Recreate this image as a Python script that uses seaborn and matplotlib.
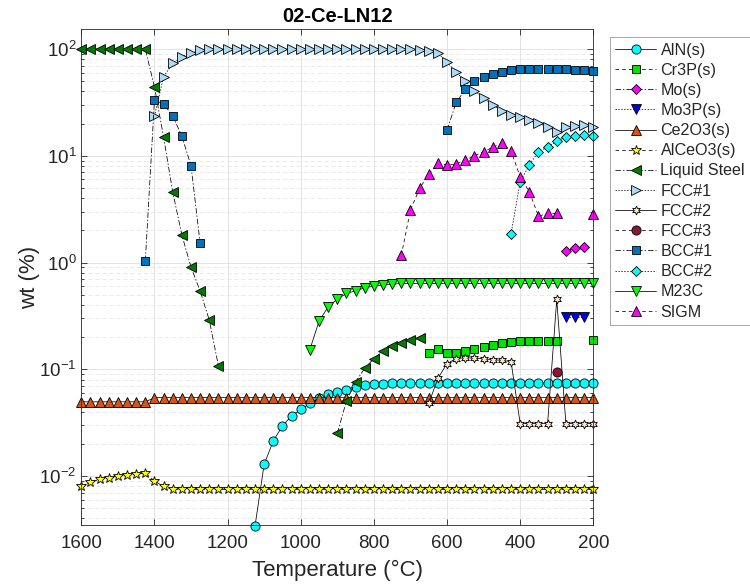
import numpy as np
import pandas as pd
import matplotlib
matplotlib.use("Agg")
import matplotlib.pyplot as plt
import seaborn as sns
from matplotlib.ticker import LogLocator, NullFormatter, FixedLocator

# ---------------- data ----------------
temperature = list(range(1600, 199, -25))   # 57 temperatures, 1600 .. 200 °C
N = None

aln = [N]*19 + [0.0034, 0.0129, 0.0213, 0.0295, 0.0366, 0.042, 0.0478, 0.0533,
                0.058, 0.0614, 0.0646, 0.0686, 0.071, 0.0726, 0.0732] + [0.0736]*23
cr3p = [N]*38 + [0.1426, 0.155, 0.1426, 0.141, 0.147, 0.154, 0.163, 0.169, 0.177,
                 0.181, 0.182, 0.183, 0.183, 0.184, 0.184] + [N]*3 + [0.187]
mo = [N]*53 + [1.29, 1.36, 1.40] + [N]
mo3p = [N]*53 + [0.31, 0.31, 0.31] + [N]
ce2o3 = [0.0495]*8 + [0.0542]*49
alceo3 = [0.0080, 0.00875, 0.0093, 0.0096, 0.0100, 0.0102, 0.0105, 0.0106,
          0.0090, 0.0080] + [0.0075]*47
liquid = [100]*8 + [44, 15, 4.57, 1.81, 0.905, 0.54, 0.288, 0.107] + [N]*12 + \
         [0.0251, 0.0506, 0.0762, 0.102, 0.126, 0.149, 0.166, 0.178, 0.187, 0.195] + [N]*19
fcc1 = [N]*8 + [23.5, 55, 73.4, 84.7, 92.5, 97] + [99]*23 + \
       [98, 96, 92, 75, 60.5, 50, 40.7, 34.5, 29.9, 26.4, 24.1, 22.9, 21.6, 20.1,
        18.7, 16.8, 18.7, 19.1, 19.4, 18.7]
fcc2 = [N]*38 + [0.0478, 0.082, 0.113, 0.126, 0.128, 0.127, 0.125, 0.123, 0.121,
                 0.118, 0.031, 0.031, 0.031, 0.031, 0.451, 0.031, 0.031, 0.031, 0.031]
fcc3 = [N]*52 + [0.0946] + [N]*4
bcc1 = [N]*7 + [1.03, 33, 30.7, 23.4, 15.3, 8.05, 1.51] + [N]*26 + \
       [17.4, 31.6, 41.9, 50, 55, 58.3, 61.4, 63.6, 64.6, 65.3, 65.5, 65.5, 65,
        64.6, 63.6, 63, 62.7]
bcc2 = [N]*47 + [1.85, 5.7, 8.2, 10.9, 12.1, 13.7, 15.1, 15.3, 15.6, 15.3]
m23c = [N]*25 + [0.153, 0.282, 0.385, 0.454, 0.513, 0.543, 0.58, 0.60, 0.618,
                 0.625] + [0.637]*22
sigm = [N]*35 + [1.17, 3.1, 4.94, 6.73, 8.49, 8.18, 8.36, 9.1, 10.0, 10.9, 12.0,
                 13.1, 11.1, 6.35, 4.6, 2.72, 2.88, 2.88] + [N]*3 + [2.82]

names = ["AlN(s)", "Cr3P(s)", "Mo(s)", "Mo3P(s)", "Ce2O3(s)", "AlCeO3(s)",
         "Liquid Steel", "FCC#1", "FCC#2", "FCC#3", "BCC#1", "BCC#2", "M23C", "SIGM"]
values = [aln, cr3p, mo, mo3p, ce2o3, alceo3, liquid, fcc1, fcc2, fcc3, bcc1,
          bcc2, m23c, sigm]

# ---------------- styles ----------------
DASH = (0, (2.6, 2.2))
DASHDOT = (0, (4, 1.4, 1, 1.4))
DOT = (0, (1, 1.1))
SOLID = "-"
styles = {
    "AlN(s)":       dict(ls=SOLID,   marker="o", fc="#00FFFF", ms=6.6),
    "Cr3P(s)":      dict(ls=DASH,    marker="s", fc="#00E400", ms=5.3),
    "Mo(s)":        dict(ls=DASHDOT, marker="D", fc="#FF00FF", ms=5.0),
    "Mo3P(s)":      dict(ls=DOT,     marker="v", fc="#0000F0", ms=7.0),
    "Ce2O3(s)":     dict(ls=SOLID,   marker="^", fc="#D95319", ms=7.0),
    "AlCeO3(s)":    dict(ls=DASH,    marker="*", fc="#FFFF00", ms=7.0),
    "Liquid Steel": dict(ls=DASHDOT, marker="<", fc="#007A00", ms=7.2),
    "FCC#1":        dict(ls=DOT,     marker=">", fc="#ADDAF5", ms=7.6),
    "FCC#2":        dict(ls=SOLID,   marker=(6, 1, 0), fc="#FCE3C4", ms=6.4),
    "FCC#3":        dict(ls=DASH,    marker="o", fc="#8C1634", ms=6.6),
    "BCC#1":        dict(ls=DASHDOT, marker="s", fc="#0072BD", ms=5.3),
    "BCC#2":        dict(ls=DOT,     marker="D", fc="#00FFFF", ms=5.0),
    "M23C":         dict(ls=SOLID,   marker="v", fc="#00FF00", ms=7.0),
    "SIGM":         dict(ls=DASH,    marker="^", fc="#FF00FF", ms=7.0),
}

# ---------------- figure ----------------
sns.set_style("ticks")
plt.rcParams["font.family"] = ["Liberation Sans", "DejaVu Sans"]
plt.rcParams["mathtext.fontset"] = "custom"
plt.rcParams["mathtext.rm"] = "Liberation Sans"
plt.rcParams["lines.scale_dashes"] = False

fig = plt.figure(figsize=(7.5, 5.86), dpi=100)
ax = fig.add_axes([0.1084, 0.104, 0.6827, 0.846])
ax.set_yscale("log")

df = pd.DataFrame({"T": temperature})
for name, vals in zip(names, values):
    df[name] = pd.Series(vals, dtype="float")

for name in names:
    st = styles[name]
    s = df[["T", name]].copy()
    valid = s[name].notna()
    seg_id = (valid != valid.shift()).cumsum()
    first = True
    for _, seg in s[valid].groupby(seg_id[valid]):
        sns.lineplot(data=seg, x="T", y=name, ax=ax, sort=False, estimator=None,
                     color="black", linewidth=0.55, linestyle=st["ls"],
                     marker=st["marker"], markersize=st["ms"],
                     markerfacecolor=st["fc"], markeredgecolor="black",
                     markeredgewidth=0.6, clip_on=False,
                     label=name if first else "_nolegend_", legend=False)
        first = False

ax.set_xlim(1600, 200)
ax.set_ylim(0.00347, 153)
ax.xaxis.set_major_locator(FixedLocator([1600, 1400, 1200, 1000, 800, 600, 400, 200]))
ax.yaxis.set_major_locator(LogLocator(base=10, numticks=10))
ax.yaxis.set_minor_locator(LogLocator(base=10, subs=np.arange(2, 10), numticks=20))
ax.yaxis.set_minor_formatter(NullFormatter())

ax.grid(True, which="major", color="#dedede", linewidth=0.6)
ax.grid(True, which="minor", axis="y", color="#e2e2e2", linewidth=0.5,
        linestyle=(0, (3, 2)))
ax.set_axisbelow(True)

for sp in ax.spines.values():
    sp.set_color("#262626")
    sp.set_linewidth(0.6)
    sp.set_visible(True)
ax.tick_params(which="both", direction="in", top=True, right=True,
               colors="#262626", labelsize=13.5, width=0.6)
ax.tick_params(which="major", length=4.5)
ax.tick_params(which="minor", length=2.5)
ax.tick_params(axis="x", pad=7)

ax.set_xlabel("Temperature (°C)", fontsize=16, color="#262626", labelpad=6)
ax.set_ylabel("wt (%)", fontsize=16, color="#262626", labelpad=-1)
ax.set_title("02-Ce-LN12", fontsize=14.5, fontweight="bold", color="black", pad=5)

handles, labels = ax.get_legend_handles_labels()
leg = ax.legend(handles, labels, loc="upper left", bbox_to_anchor=(0.813, 0.937),
                bbox_transform=fig.transFigure, borderaxespad=0, fontsize=11.6,
                frameon=True, fancybox=False, edgecolor="#7f7f7f",
                handlelength=2.5, handletextpad=0.3, labelspacing=0.32,
                borderpad=0.35)
leg.get_frame().set_linewidth(0.6)

fig.savefig("out.png", dpi=100, facecolor="white")
